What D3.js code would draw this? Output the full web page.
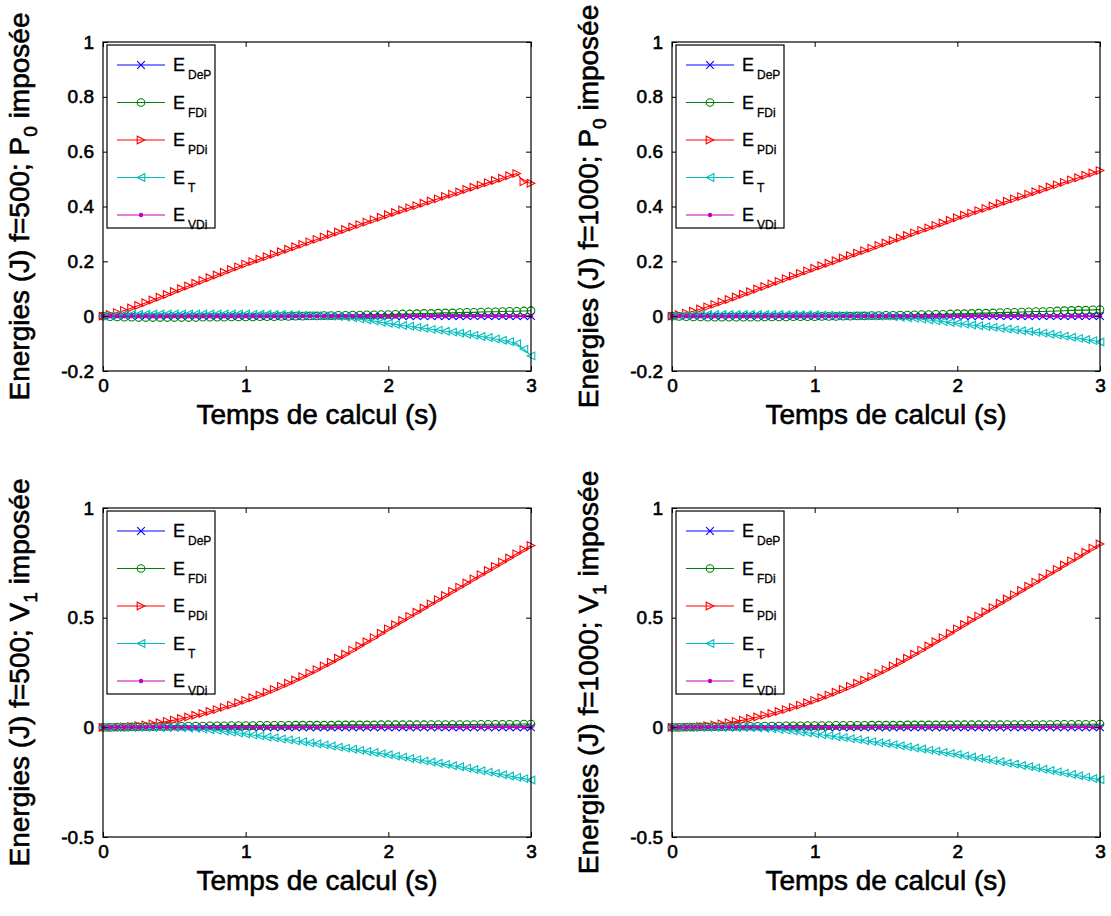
<!DOCTYPE html>
<html>
<head>
<meta charset="utf-8">
<script src="https://cdn.jsdelivr.net/npm/d3@7"></script>
<style>
html,body{margin:0;padding:0;background:#fff;}
svg{display:block;}
text{font-family:"Liberation Sans",Arial,sans-serif;fill:#000;}
</style>
</head>
<body>
<svg id="chart" width="1111" height="916"></svg>
<script>
// ---------- data ----------
const time = [0,0.05,0.1,0.15,0.2,0.25,0.3,0.35,0.4,0.45,0.5,0.55,0.6,0.65,0.7,0.75,0.8,0.85,0.9,0.95,1,1.05,1.1,1.15,1.2,1.25,1.3,1.35,1.4,1.45,1.5,1.55,1.6,1.65,1.7,1.75,1.8,1.85,1.9,1.95,2,2.05,2.1,2.15,2.2,2.25,2.3,2.35,2.4,2.45,2.5,2.55,2.6,2.65,2.7,2.75,2.8,2.85,2.9,2.95,3];

const seriesNames = ["DeP","FDi","PDi","T","VDi"];
const seriesColors = ["#0000ff","#008000","#ff0000","#00bfbf","#bf00bf"];
const seriesMarkers = ["x","o",">","<","."];

const xTicks = [0,1,2,3];
const yTicksTop = [-0.2,0,0.2,0.4,0.6,0.8,1];
const yTickLabelsTop = ["-0.2","0","0.2","0.4","0.6","0.8","1"];
const yTicksBottom = [-0.5,0,0.5,1];
const yTickLabelsBottom = ["-0.5","0","0.5","1"];

const panelFreq = ["500","1000","500","1000"];
const panelImposed = [["P","0"],["P","0"],["V","1"],["V","1"]];
const xLabel = "Temps de calcul (s)";

const zeros61 = [0,0,0,0,0,0,0,0,0,0,0,0,0,0,0,0,0,0,0,0,0,0,0,0,0,0,0,0,0,0,0,0,0,0,0,0,0,0,0,0,0,0,0,0,0,0,0,0,0,0,0,0,0,0,0,0,0,0,0,0,0];

// top-left : f=500, P0
const tl_DeP = zeros61;
const tl_FDi = [0,-.002,-.003,-.004,-.004,-.005,-.005,-.005,-.005,-.005,-.005,
  -.005,-.005,-.005,-.004,-.004,-.004,-.004,-.003,-.003,-.003,
  -.003,-.002,-.002,-.002,-.001,-.001,0,0,.001,.001,
  .002,.002,.003,.003,.004,.004,.005,.005,.006,.006,
  .007,.008,.008,.009,.010,.010,.011,.012,.012,.013,
  .014,.014,.015,.016,.016,.017,.018,.018,.019,.020];
const tl_PDi = [0,.006,.013,.021,.030,.039,.049,.059,.069,.079,.090,
  .100,.110,.120,.130,.140,.150,.160,.170,.180,.190,
  .199,.208,.217,.226,.235,.244,.253,.262,.271,.280,
  .289,.298,.307,.316,.325,.334,.343,.352,.361,.370,
  .378,.387,.395,.403,.412,.420,.428,.437,.445,.453,
  .462,.470,.478,.487,.495,.503,.512,.520,.490,.485];
const tl_T = [0,.002,.004,.005,.006,.007,.007,.008,.008,.008,.008,
  .008,.008,.008,.008,.008,.008,.008,.008,.008,.008,
  .007,.007,.007,.006,.006,.005,.005,.004,.003,.002,
  .001,0,-.001,-.003,-.006,-.010,-.014,-.018,-.022,-.026,
  -.030,-.034,-.037,-.041,-.044,-.048,-.051,-.055,-.058,-.062,
  -.066,-.070,-.074,-.078,-.083,-.088,-.093,-.100,-.120,-.145];
const tl_VDi = zeros61;

// top-right : f=1000, P0
const tr_DeP = zeros61;
const tr_FDi = [0,-.001,-.002,-.003,-.003,-.004,-.004,-.004,-.004,-.004,-.004,
  -.004,-.004,-.003,-.003,-.003,-.003,-.002,-.002,-.002,-.002,
  -.001,-.001,-.001,0,0,.001,.001,.002,.002,.003,
  .003,.004,.004,.005,.006,.006,.007,.007,.008,.009,
  .009,.010,.011,.011,.012,.013,.014,.014,.015,.016,
  .017,.017,.018,.019,.020,.021,.022,.022,.023,.024];
const tr_PDi = [0,.005,.011,.018,.026,.034,.043,.052,.061,.070,.080,
  .089,.099,.108,.118,.127,.137,.146,.156,.165,.175,
  .184,.193,.202,.212,.221,.230,.239,.248,.258,.267,
  .276,.285,.294,.304,.313,.322,.331,.340,.350,.359,
  .368,.376,.385,.393,.402,.411,.419,.428,.436,.445,
  .454,.462,.471,.479,.488,.497,.505,.514,.522,.531];
const tr_T = [0,.002,.003,.004,.005,.006,.006,.006,.006,.006,.006,
  .006,.006,.006,.006,.006,.005,.005,.005,.005,.005,
  .004,.004,.003,.003,.002,.002,.001,.001,0,0,
  -.002,-.004,-.006,-.008,-.011,-.014,-.017,-.020,-.023,-.026,
  -.029,-.032,-.035,-.038,-.041,-.044,-.047,-.050,-.053,-.056,
  -.059,-.062,-.066,-.069,-.073,-.077,-.081,-.085,-.089,-.094];
const tr_VDi = zeros61;

// bottom-left : f=500, V1
const bl_DeP = zeros61;
const bl_FDi = [0,0,.001,.001,.002,.002,.003,.003,.004,.004,.005,
  .005,.006,.006,.006,.007,.007,.007,.008,.008,.008,
  .008,.009,.009,.009,.009,.009,.010,.010,.010,.010,
  .010,.010,.011,.011,.011,.011,.011,.011,.012,.012,
  .012,.012,.012,.012,.012,.013,.013,.013,.013,.013,
  .013,.013,.014,.014,.014,.014,.014,.014,.015,.015];
const bl_PDi = [0,0,.001,.002,.004,.007,.011,.016,.021,.027,.033,
  .040,.047,.055,.063,.072,.081,.091,.101,.112,.123,
  .135,.147,.160,.173,.187,.201,.216,.231,.247,.263,
  .280,.297,.315,.333,.352,.371,.390,.409,.429,.449,
  .468,.487,.506,.525,.544,.563,.582,.601,.620,.639,
  .658,.677,.696,.715,.734,.753,.772,.791,.810,.829];
const bl_T = [0,0,0,0,0,0,0,0,0,0,0,
  -.001,-.003,-.005,-.008,-.011,-.014,-.018,-.022,-.026,-.030,
  -.035,-.039,-.044,-.048,-.053,-.057,-.062,-.066,-.071,-.075,
  -.080,-.085,-.090,-.095,-.100,-.105,-.110,-.115,-.120,-.125,
  -.131,-.136,-.142,-.147,-.153,-.158,-.164,-.169,-.175,-.180,
  -.186,-.192,-.198,-.204,-.210,-.216,-.222,-.228,-.234,-.240];
const bl_VDi = zeros61;

// bottom-right : f=1000, V1
const br_DeP = zeros61;
const br_FDi = [0,0,.001,.001,.002,.002,.003,.003,.004,.004,.005,
  .005,.005,.006,.006,.006,.007,.007,.007,.008,.008,
  .008,.008,.009,.009,.009,.009,.009,.010,.010,.010,
  .010,.010,.011,.011,.011,.011,.011,.011,.011,.012,
  .012,.012,.012,.012,.012,.012,.013,.013,.013,.013,
  .013,.013,.013,.014,.014,.014,.014,.014,.014,.015];
const br_PDi = [0,0,.001,.002,.004,.007,.011,.016,.021,.027,.033,
  .040,.047,.055,.063,.072,.081,.091,.101,.112,.123,
  .135,.147,.160,.173,.187,.201,.216,.231,.247,.263,
  .280,.297,.315,.333,.352,.371,.390,.409,.429,.449,
  .469,.488,.507,.527,.546,.566,.585,.604,.624,.643,
  .662,.682,.701,.720,.740,.759,.778,.798,.817,.836];
const br_T = [0,0,0,0,0,0,0,0,0,0,0,
  -.001,-.002,-.004,-.007,-.010,-.013,-.017,-.021,-.025,-.029,
  -.034,-.038,-.043,-.047,-.052,-.056,-.061,-.065,-.070,-.074,
  -.079,-.084,-.089,-.094,-.099,-.104,-.109,-.114,-.119,-.124,
  -.130,-.135,-.141,-.146,-.152,-.157,-.163,-.168,-.174,-.179,
  -.185,-.191,-.197,-.203,-.209,-.215,-.221,-.227,-.233,-.239];
const br_VDi = zeros61;

const panelSeries = [
  [tl_DeP, tl_FDi, tl_PDi, tl_T, tl_VDi],
  [tr_DeP, tr_FDi, tr_PDi, tr_T, tr_VDi],
  [bl_DeP, bl_FDi, bl_PDi, bl_T, bl_VDi],
  [br_DeP, br_FDi, br_PDi, br_T, br_VDi]
];

// ---------- layout ----------
const colLeft = [103, 672];
const rowTop = [42, 508];
const plotW = 428, plotH = 329;
const FONT = '"Liberation Sans",Arial,sans-serif';

const svg = d3.select("#chart");

function markerPath(type, s) {
  if (type === ">") return `M${s},0L${-s},${-s}L${-s},${s}Z`;
  if (type === "<") return `M${-s},0L${s},${-s}L${s},${s}Z`;
  if (type === "x") return `M${-s},${-s}L${s},${s}M${-s},${s}L${s},${-s}`;
  return null;
}

function drawMarker(g, type, color, cx, cy) {
  if (type === "o") {
    g.append("circle").attr("cx", cx).attr("cy", cy).attr("r", 3.8)
      .attr("fill", "none").attr("stroke", color).attr("stroke-width", 1.1);
  } else if (type === ".") {
    g.append("circle").attr("cx", cx).attr("cy", cy).attr("r", 2.2)
      .attr("fill", color).attr("stroke", "none");
  } else {
    g.append("path").attr("d", markerPath(type, 3.8))
      .attr("transform", `translate(${cx},${cy})`)
      .attr("fill", "none").attr("stroke", color).attr("stroke-width", 1.1);
  }
}

for (let p = 0; p < 4; p++) {
  const left = colLeft[p % 2];
  const top = rowTop[Math.floor(p / 2)];
  const isTop = p < 2;
  const x = d3.scaleLinear().domain([0, 3]).range([left, left + plotW]);
  const y = d3.scaleLinear()
    .domain(isTop ? [-0.2, 1] : [-0.5, 1])
    .range([top + plotH, top]);
  const yTicks = isTop ? yTicksTop : yTicksBottom;
  const yLabels = isTop ? yTickLabelsTop : yTickLabelsBottom;

  const g = svg.append("g");

  g.append("rect").attr("x", left).attr("y", top).attr("width", plotW).attr("height", plotH)
    .attr("fill", "#fff");

  const clipId = "clip" + p;
  svg.append("clipPath").attr("id", clipId).append("rect")
    .attr("x", left - 6).attr("y", top - 6).attr("width", plotW + 12).attr("height", plotH + 12);
  const dataG = g.append("g").attr("clip-path", `url(#${clipId})`);

  panelSeries[p].forEach((vals, si) => {
    const color = seriesColors[si];
    const line = d3.line().x((d, i) => x(time[i])).y(d => y(d));
    dataG.append("path").datum(vals).attr("d", line)
      .attr("fill", "none").attr("stroke", color).attr("stroke-width", 1.1);
    const mg = dataG.append("g");
    vals.forEach((v, i) => drawMarker(mg, seriesMarkers[si], color, x(time[i]), y(v)));
  });

  const styleText = a => a.selectAll("text")
    .attr("font-size", 19).attr("font-family", FONT)
    .attr("fill", "#000").attr("stroke", "#000").attr("stroke-width", 0.6);

  const fmtY = d => yLabels[yTicks.indexOf(d)];
  g.append("g").attr("transform", `translate(${left},0)`)
    .call(d3.axisLeft(y).tickValues(yTicks).tickFormat(fmtY).tickSizeInner(-5).tickSizeOuter(0).tickPadding(9))
    .call(a => a.select(".domain").remove())
    .call(styleText);
  g.append("g").attr("transform", `translate(${left + plotW},0)`)
    .call(d3.axisRight(y).tickValues(yTicks).tickFormat("").tickSizeInner(-5).tickSizeOuter(0))
    .call(a => a.select(".domain").remove());
  g.append("g").attr("transform", `translate(0,${top + plotH})`)
    .call(d3.axisBottom(x).tickValues(xTicks).tickFormat(d3.format("d")).tickSizeInner(-5).tickSizeOuter(0).tickPadding(8))
    .call(a => a.select(".domain").remove())
    .call(styleText);
  g.append("g").attr("transform", `translate(0,${top})`)
    .call(d3.axisTop(x).tickValues(xTicks).tickFormat("").tickSizeInner(-5).tickSizeOuter(0))
    .call(a => a.select(".domain").remove());

  g.append("rect").attr("x", left).attr("y", top).attr("width", plotW).attr("height", plotH)
    .attr("fill", "none").attr("stroke", "#000").attr("stroke-width", 1.2);

  // legend
  const lg = g.append("g").attr("transform", `translate(${left + 4},${top + 3})`);
  lg.append("rect").attr("width", 108).attr("height", 183)
    .attr("fill", "#fff").attr("stroke", "#000").attr("stroke-width", 1.2);
  seriesNames.forEach((name, si) => {
    const ry = 20 + si * 37.5;
    const color = seriesColors[si];
    lg.append("line").attr("x1", 10).attr("x2", 58).attr("y1", ry).attr("y2", ry)
      .attr("stroke", color).attr("stroke-width", 1.1);
    drawMarker(lg, seriesMarkers[si], color, 34, ry);
    const t = lg.append("text").attr("x", 66).attr("y", ry + 6).attr("font-size", 18)
      .attr("stroke", "#000").attr("stroke-width", 0.3);
    t.append("tspan").text("E");
    t.append("tspan").attr("dx", 3).attr("dy", 8).attr("font-size", 12).text(name);
  });

  // y label
  const imp = panelImposed[p];
  const yl = g.append("text")
    .attr("transform", `translate(${left - 74},${top + plotH / 2}) rotate(-90)`)
    .attr("text-anchor", "middle").attr("font-size", 28)
    .attr("stroke", "#000").attr("stroke-width", 0.6);
  yl.append("tspan").text(`Energies (J) f=${panelFreq[p]}; ${imp[0]}`);
  yl.append("tspan").attr("dy", 8).attr("font-size", 19).text(imp[1]);
  yl.append("tspan").attr("dy", -8).text(" imposée");

  // x label
  g.append("text").attr("x", left + plotW / 2).attr("y", top + plotH + 53)
    .attr("text-anchor", "middle").attr("font-size", 28)
    .attr("stroke", "#000").attr("stroke-width", 0.6).text(xLabel);
}
</script>
</body>
</html>
